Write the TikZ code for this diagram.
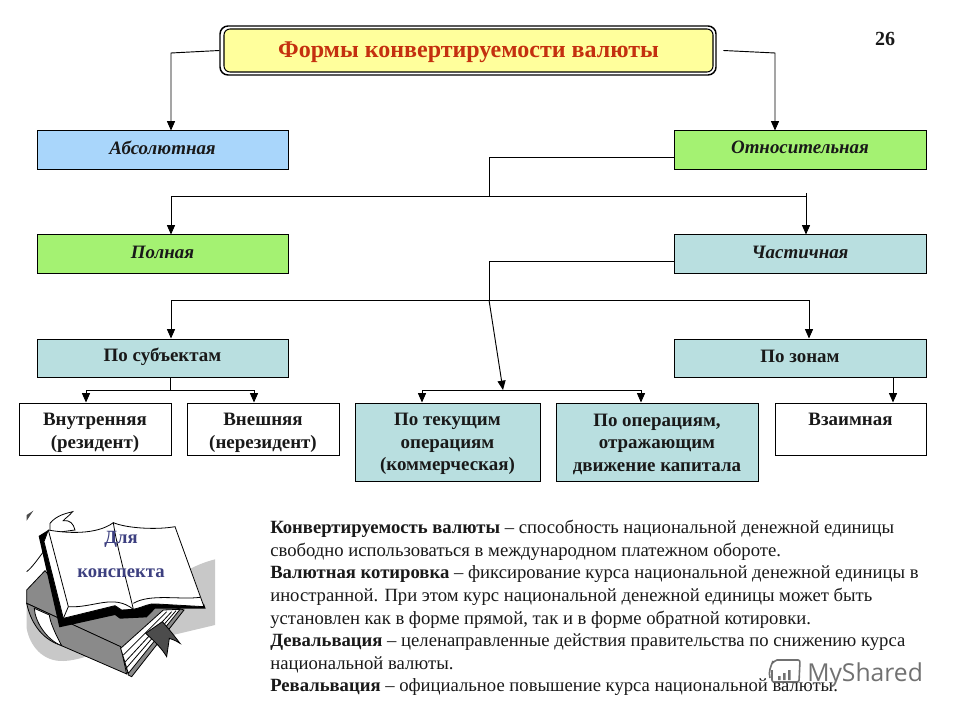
\documentclass[tikz,border=0pt]{standalone}
\usepackage{fontspec}
\setmainfont{Liberation Serif}
\newfontfamily\wmfont{Open Sans}
\usetikzlibrary{arrows.meta}
\definecolor{cblue}{HTML}{A9D6FB}
\definecolor{cgreen}{HTML}{A4F272}
\definecolor{cteal}{HTML}{B9DFE0}
\definecolor{cyell}{HTML}{FFFF9C}
\definecolor{cred}{HTML}{C4300F}
\definecolor{cink}{HTML}{3D4080}
\definecolor{cgr}{HTML}{8A8A8A}
\definecolor{clg}{HTML}{C8C8C8}
\tikzset{
  boxbase/.style={draw=black,line width=0.75pt,inner sep=0pt,align=center,font=\fontsize{14.2}{16.9}\selectfont\bfseries,text=black!90},
  ital/.style={boxbase,font=\fontsize{14.2}{16.9}\selectfont\bfseries\itshape},
  conn/.style={line width=0.7pt,black},
  arr/.style={conn,-{Triangle[length=7pt,width=6pt]}},
  bookline/.style={line width=0.6pt,black},
}
\newcommand{\dn}[2]{\raisebox{#1}[\height][\depth]{#2}}
\newcommand{\bx}[7]{%
  \pgfmathsetmacro{\cxx}{(#2+#4)/2}\pgfmathsetmacro{\cyy}{(#3+#5)/2}%
  \pgfmathsetmacro{\bwid}{(#4-#2)*0.75}\pgfmathsetmacro{\bhgt}{(#5-#3)*0.75}%
  \node[#6,minimum width=\bwid pt,minimum height=\bhgt pt] (#1) at (\cxx,\cyy) {#7};}
\begin{document}
\begin{tikzpicture}[x=0.75pt,y=-0.75pt]
\useasboundingbox (0,0) rectangle (960,720);
\fill[white] (0,0) rectangle (960,720);
% title
\bx{titleo}{220}{26}{716}{75}{draw=black,line width=1.1pt,fill=white,rounded corners=6pt}{}
\bx{title}{224}{29}{713}{72}{draw=black,line width=0.8pt,fill=cyell,rounded corners=4.5pt,inner sep=0pt,font=\fontsize{18}{20}\selectfont\bfseries,text=cred}{\dn{-1pt}{Формы конвертируемости валюты}}
\node[font=\fontsize{15}{17}\selectfont\bfseries,text=black!90] (num) at (885,39) {26};
% boxes
\bx{abs}{37}{131}{288}{170}{ital,fill=cblue}{\dn{2pt}{Абсолютная}}
\bx{rel}{674}{131}{926}{170}{ital,fill=cgreen}{\dn{2pt}{Относительная}}
\bx{full}{37}{235}{288}{274}{ital,fill=cgreen}{\dn{1.4pt}{Полная}}
\bx{part}{674}{235}{926}{274}{ital,fill=cteal}{\dn{1.4pt}{Частичная}}
\bx{subj}{37}{339}{288}{377}{boxbase,fill=cteal}{\dn{1pt}{По субъектам}}
\bx{zone}{674}{339}{926}{377}{boxbase,fill=cteal}{\dn{1pt}{По зонам}}
\bx{inner}{19}{403}{171}{455}{boxbase,fill=white}{\dn{-3pt}{Внутренняя}\\\dn{-3pt}{(резидент)}}
\bx{outer}{187}{403}{339}{455}{boxbase,fill=white}{\dn{-3pt}{Внешняя}\\\dn{-3pt}{(нерезидент)}}
\bx{curr}{355}{403}{540}{481}{boxbase,fill=cteal}{\dn{-1.5pt}{По текущим}\\\dn{-1.5pt}{операциям}\\\dn{-1.5pt}{(коммерческая)}}
\bx{capi}{556}{403}{758}{481}{boxbase,fill=cteal}{\dn{-1.5pt}{По операциям,}\\\dn{-1.5pt}{отражающим}\\\dn{-1.5pt}{движение капитала}}
\bx{mutu}{775}{403}{926}{455}{boxbase,fill=white}{\dn{-3pt}{Взаимная}\\\phantom{(x)}}
% junction coordinates
\coordinate (tl) at (171,53);
\coordinate (tr) at (775,53);
\coordinate (j1) at (489,196);
\coordinate (j1l) at (171,196);
\coordinate (j1r) at (806,196);
\coordinate (j2) at (489,300);
\coordinate (j2l) at (171,300);
\coordinate (j2r) at (809,300);
\coordinate (j3) at (503,390);
\coordinate (j3l) at (422,390);
\coordinate (j3r) at (641,390);
\coordinate (j4) at (170,390);
\coordinate (j4l) at (86,390);
\coordinate (j4r) at (254,390);
\coordinate (zb) at (893,378);
\coordinate (rj) at (489,157);
\coordinate (pj) at (489,261);
% connectors
\draw[arr] (titleo.west) -- (tl) -- (tl |- abs.north);
\draw[arr] ([xshift=5pt]titleo.east) -- (tr) -- (tr |- rel.north);
\draw[conn] (rel.west |- rj) -- (rj) -- (j1);
\draw[arr] (j1r) -- (j1l) -- (j1l |- full.north);
\draw[arr] ([yshift=2.2pt]j1r) -- (j1r |- part.north);
\draw[conn] (part.west |- pj) -- (pj) -- (j2);
\draw[arr] (j2) -- (j2l) -- (j2l |- subj.north);
\draw[arr] (j2) -- (j2r) -- (j2r |- zone.north);
\draw[arr] (j2) -- (j3);
\draw[arr] (j3) -- (j3l) -- (j3l |- curr.north);
\draw[arr] (j3) -- (j3r) -- (j3r |- capi.north);
\draw[conn] (j4 |- subj.south) -- (j4);
\draw[arr] (j4) -- (j4l) -- (j4l |- inner.north);
\draw[arr] (j4) -- (j4r) -- (j4r |- outer.north);
\draw[arr] (zb) -- (zb |- mutu.north);
% book picture (coordinates as in a 3x crop from (0,500))
\begin{scope}[shift={(0,500)},x=0.25pt,y=-0.25pt]
  \fill[clg] (80,385) .. controls (90,440) and (130,485) .. (190,483) .. controls (230,482) and (270,465) .. (330,450) -- (645,375) -- (645,178) .. controls (600,190) and (570,205) .. (540,225) -- (300,300) -- (80,300) -- cycle;
  % curled strokes top-left
  \draw[bookline,fill=white] (150,70) .. controls (170,45) and (200,40) .. (218,35) .. controls (205,50) and (195,55) .. (190,62) .. controls (210,60) and (220,70) .. (225,90) -- (150,100) -- cycle;
  \fill[black!70] (80,45) -- (100,32) -- (80,62) -- cycle;
  \draw[bookline] (80,215) .. controls (100,200) and (125,160) .. (135,150);
  % lower book cover
  \fill[cgr,draw=black,line width=0.6pt] (135,212) -- (80,270) -- (80,310) -- (360,440) -- (385,525) -- (395,530) -- (552,330) -- (480,310) -- (200,290) -- cycle;
  % spine and lower cover
  \fill[cgr,draw=black,line width=0.6pt] (80,310) .. controls (95,380) and (135,420) .. (180,435) -- (380,522) -- (362,440) -- cycle;
  \fill[white,draw=black,line width=0.6pt] (103,325) .. controls (105,365) and (140,420) .. (185,437) .. controls (165,400) and (150,365) .. (148,345) -- cycle;
  % page block
  \fill[white,draw=black,line width=0.6pt] (362,445) -- (385,520) -- (540,328) -- (490,330) -- cycle;
  \draw[bookline] (370,465) -- (500,335) (376,485) -- (515,335) (381,502) -- (528,332);
  % bookmark
  \fill[black!70,draw=black,line width=0.6pt] (437,400) -- (487,365) .. controls (505,385) and (525,410) .. (540,430) .. controls (525,420) and (515,418) .. (508,415) -- (500,470) .. controls (485,445) and (465,425) .. (437,400) -- cycle;
  % black backing of open book
  \fill[black] (116,108) -- (145,90) -- (612,312) -- (617,326) -- (465,326) -- (440,352) -- (360,356) -- (345,345) -- (178,382) -- cycle;
  % open book white pages
  \fill[white,draw=black,line width=0.6pt] (145,90) .. controls (200,100) and (290,105) .. (340,68) .. controls (380,85) and (470,90) .. (525,80) -- (612,320) -- (470,312) .. controls (450,308) and (435,320) .. (400,328) -- (365,330) -- (345,317) -- (190,355) -- (132,125) -- cycle;
  \draw[bookline] (145,90) -- (205,320) -- (190,355);
  \draw[bookline] (340,68) .. controls (350,140) and (385,260) .. (400,328);
  \draw[bookline] (205,320) .. controls (280,325) and (340,280) .. (400,328);
  \draw[bookline] (400,310) .. controls (450,280) and (540,300) .. (600,292);
\end{scope}
\node[font=\fontsize{14}{16}\selectfont\bfseries,text=cink] (dlya) at (121,539) {Для};
\node[font=\fontsize{14}{16}\selectfont\bfseries,text=cink] (kons) at (121,573) {конспекта};
% body text
\node[anchor=north west,inner sep=0pt,align=left,font=\fontsize{14}{16.95}\selectfont,text=black!90] (body) at (270,520) {%
\textbf{Конвертируемость валюты} – способность национальной денежной единицы\\
свободно использоваться в международном платежном обороте.\\
\textbf{Валютная котировка} – фиксирование курса национальной денежной единицы в\\
иностранной. При этом курс национальной денежной единицы может быть\\
установлен как в форме прямой, так и в форме обратной котировки.\\
\textbf{Девальвация} – целенаправленные действия правительства по снижению курса\\
национальной валюты.\\
\textbf{Ревальвация} – официальное повышение курса национальной валюты.};
% watermark
\node[anchor=west,inner sep=0pt,font=\wmfont\fontsize{18.5}{20}\selectfont,text=black!65,opacity=0.85] (wm) at (807,675) {MyShared};
\begin{scope}[black!65,line width=1.2pt,opacity=0.85]
  \draw[rounded corners=1.5pt] (773,663) -- (775,660) -- (800,660) -- (799,682) -- (772,682) -- (772,670);
  \draw (770,678) .. controls (768,672) and (771,666) .. (773,661);
  \fill (778,680) rectangle (780.5,676) (783,680) rectangle (785.5,673) (788,680) rectangle (790.5,670);
\end{scope}
\end{tikzpicture}
\end{document}
